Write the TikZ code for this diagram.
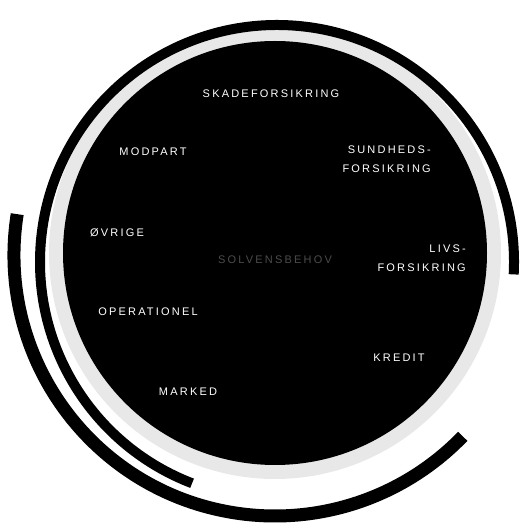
\documentclass[tikz,border=0pt]{standalone}
\usepackage{fontspec}
\usepackage{tikz}
\usetikzlibrary{positioning}
\newfontfamily\riskfont[LetterSpace=20]{Liberation Sans}
\tikzset{
  riskdisk/.style = {
    fill=black
  },
  riskhalo/.style = {
    fill=black!9
  },
  riskring/.style = {
    draw=black,
    line width=10pt
  },
  riskouter/.style = {
    draw=black,
    line width=13pt
  },
  risklabel/.style = {
    text=white,
    font=\riskfont\fontsize{11}{19}\selectfont,
    inner sep=0pt
  },
  riskcenter/.style = {
    risklabel,
    text=black!70
  }
}

\begin{document}
\begin{tikzpicture}[x=1pt,y=1pt]
    \useasboundingbox (0,0) rectangle (520,530);
    \fill[riskhalo] (275,277) circle (226);
    \fill[riskdisk] (275,277) circle (212);
    \draw[riskring] (277,268) ++(-3:237) arc (-3:249:237);
    \draw[riskouter] (275,275) ++(171:261) arc (171:316:261);
    \node[riskcenter] (scr) at (275,270) {SOLVENSBEHOV};
    \node[risklabel] (skade) at (271,436.5) {SKADEFORSIKRING};
    \node[risklabel] (modpart) at (153,378) {MODPART};
    \node[risklabel, align=right, anchor=east] (sundhed) at (431,371) {SUNDHEDS-\\FORSIKRING};
    \node[risklabel] (oevrige) at (117,297) {ØVRIGE};
    \node[risklabel, align=right, anchor=east] (livs) at (466,272) {LIVS-\\FORSIKRING};
    \node[risklabel] (operationel) at (148,218) {OPERATIONEL};
    \node[risklabel] (kredit) at (399,172) {KREDIT};
    \node[risklabel] (marked) at (188,138) {MARKED};
  \end{tikzpicture}
\end{document}
